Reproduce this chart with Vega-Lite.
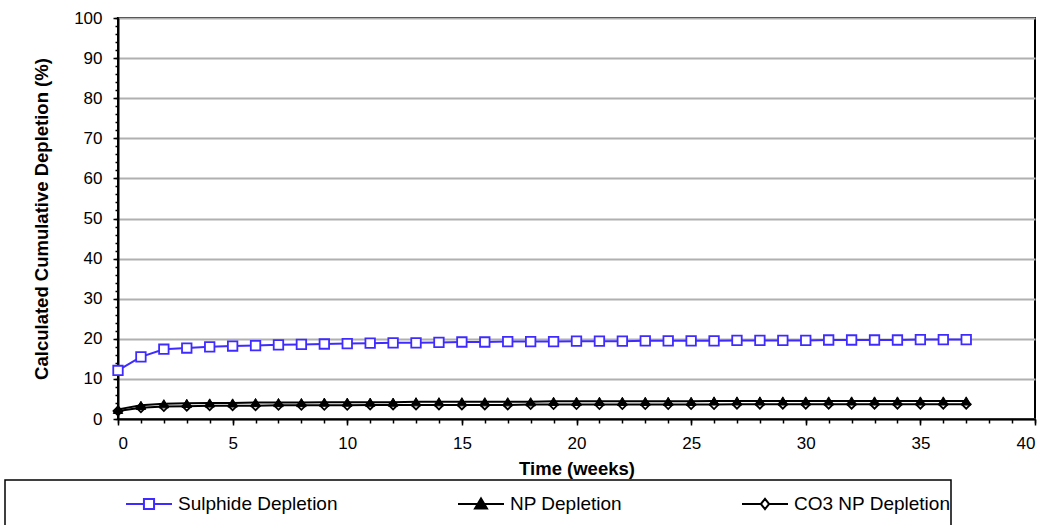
{
  "$schema": "https://vega.github.io/schema/vega-lite/v6.json",
  "width": 917,
  "height": 401,
  "autosize": {"type": "none"},
  "padding": {"left": 118, "top": 18, "right": 27, "bottom": 106},
  "background": "white",
  "config": {
    "font": "Liberation Sans",
    "view": {"stroke": "black", "strokeWidth": 2},
    "axis": {"labelFont": "Liberation Sans", "titleFont": "Liberation Sans", "labelColor": "black", "titleColor": "black", "domainColor": "black", "tickColor": "black"}
  },
  "datasets": {
    "depletion": [
      {"week": 0, "series": "CO3 NP Depletion", "value": 2.0},
      {"week": 1, "series": "CO3 NP Depletion", "value": 2.8},
      {"week": 2, "series": "CO3 NP Depletion", "value": 3.1},
      {"week": 3, "series": "CO3 NP Depletion", "value": 3.2},
      {"week": 4, "series": "CO3 NP Depletion", "value": 3.3},
      {"week": 5, "series": "CO3 NP Depletion", "value": 3.3},
      {"week": 6, "series": "CO3 NP Depletion", "value": 3.3},
      {"week": 7, "series": "CO3 NP Depletion", "value": 3.4},
      {"week": 8, "series": "CO3 NP Depletion", "value": 3.4},
      {"week": 9, "series": "CO3 NP Depletion", "value": 3.4},
      {"week": 10, "series": "CO3 NP Depletion", "value": 3.4},
      {"week": 11, "series": "CO3 NP Depletion", "value": 3.5},
      {"week": 12, "series": "CO3 NP Depletion", "value": 3.5},
      {"week": 13, "series": "CO3 NP Depletion", "value": 3.5},
      {"week": 14, "series": "CO3 NP Depletion", "value": 3.5},
      {"week": 15, "series": "CO3 NP Depletion", "value": 3.5},
      {"week": 16, "series": "CO3 NP Depletion", "value": 3.5},
      {"week": 17, "series": "CO3 NP Depletion", "value": 3.5},
      {"week": 18, "series": "CO3 NP Depletion", "value": 3.6},
      {"week": 19, "series": "CO3 NP Depletion", "value": 3.6},
      {"week": 20, "series": "CO3 NP Depletion", "value": 3.6},
      {"week": 21, "series": "CO3 NP Depletion", "value": 3.6},
      {"week": 22, "series": "CO3 NP Depletion", "value": 3.6},
      {"week": 23, "series": "CO3 NP Depletion", "value": 3.6},
      {"week": 24, "series": "CO3 NP Depletion", "value": 3.6},
      {"week": 25, "series": "CO3 NP Depletion", "value": 3.6},
      {"week": 26, "series": "CO3 NP Depletion", "value": 3.6},
      {"week": 27, "series": "CO3 NP Depletion", "value": 3.7},
      {"week": 28, "series": "CO3 NP Depletion", "value": 3.7},
      {"week": 29, "series": "CO3 NP Depletion", "value": 3.7},
      {"week": 30, "series": "CO3 NP Depletion", "value": 3.7},
      {"week": 31, "series": "CO3 NP Depletion", "value": 3.7},
      {"week": 32, "series": "CO3 NP Depletion", "value": 3.7},
      {"week": 33, "series": "CO3 NP Depletion", "value": 3.7},
      {"week": 34, "series": "CO3 NP Depletion", "value": 3.7},
      {"week": 35, "series": "CO3 NP Depletion", "value": 3.7},
      {"week": 36, "series": "CO3 NP Depletion", "value": 3.7},
      {"week": 37, "series": "CO3 NP Depletion", "value": 3.7},
      {"week": 0, "series": "NP Depletion", "value": 2.4},
      {"week": 1, "series": "NP Depletion", "value": 3.4},
      {"week": 2, "series": "NP Depletion", "value": 3.8},
      {"week": 3, "series": "NP Depletion", "value": 3.9},
      {"week": 4, "series": "NP Depletion", "value": 4.0},
      {"week": 5, "series": "NP Depletion", "value": 4.0},
      {"week": 6, "series": "NP Depletion", "value": 4.1},
      {"week": 7, "series": "NP Depletion", "value": 4.1},
      {"week": 8, "series": "NP Depletion", "value": 4.1},
      {"week": 9, "series": "NP Depletion", "value": 4.2},
      {"week": 10, "series": "NP Depletion", "value": 4.2},
      {"week": 11, "series": "NP Depletion", "value": 4.2},
      {"week": 12, "series": "NP Depletion", "value": 4.2},
      {"week": 13, "series": "NP Depletion", "value": 4.3},
      {"week": 14, "series": "NP Depletion", "value": 4.3},
      {"week": 15, "series": "NP Depletion", "value": 4.3},
      {"week": 16, "series": "NP Depletion", "value": 4.3},
      {"week": 17, "series": "NP Depletion", "value": 4.3},
      {"week": 18, "series": "NP Depletion", "value": 4.3},
      {"week": 19, "series": "NP Depletion", "value": 4.4},
      {"week": 20, "series": "NP Depletion", "value": 4.4},
      {"week": 21, "series": "NP Depletion", "value": 4.4},
      {"week": 22, "series": "NP Depletion", "value": 4.4},
      {"week": 23, "series": "NP Depletion", "value": 4.4},
      {"week": 24, "series": "NP Depletion", "value": 4.4},
      {"week": 25, "series": "NP Depletion", "value": 4.4},
      {"week": 26, "series": "NP Depletion", "value": 4.5},
      {"week": 27, "series": "NP Depletion", "value": 4.5},
      {"week": 28, "series": "NP Depletion", "value": 4.5},
      {"week": 29, "series": "NP Depletion", "value": 4.5},
      {"week": 30, "series": "NP Depletion", "value": 4.5},
      {"week": 31, "series": "NP Depletion", "value": 4.5},
      {"week": 32, "series": "NP Depletion", "value": 4.5},
      {"week": 33, "series": "NP Depletion", "value": 4.5},
      {"week": 34, "series": "NP Depletion", "value": 4.5},
      {"week": 35, "series": "NP Depletion", "value": 4.5},
      {"week": 36, "series": "NP Depletion", "value": 4.5},
      {"week": 37, "series": "NP Depletion", "value": 4.5},
      {"week": 0, "series": "Sulphide Depletion", "value": 12.1},
      {"week": 1, "series": "Sulphide Depletion", "value": 15.5},
      {"week": 2, "series": "Sulphide Depletion", "value": 17.4},
      {"week": 3, "series": "Sulphide Depletion", "value": 17.7},
      {"week": 4, "series": "Sulphide Depletion", "value": 18.0},
      {"week": 5, "series": "Sulphide Depletion", "value": 18.2},
      {"week": 6, "series": "Sulphide Depletion", "value": 18.3},
      {"week": 7, "series": "Sulphide Depletion", "value": 18.5},
      {"week": 8, "series": "Sulphide Depletion", "value": 18.6},
      {"week": 9, "series": "Sulphide Depletion", "value": 18.7},
      {"week": 10, "series": "Sulphide Depletion", "value": 18.8},
      {"week": 11, "series": "Sulphide Depletion", "value": 18.9},
      {"week": 12, "series": "Sulphide Depletion", "value": 19.0},
      {"week": 13, "series": "Sulphide Depletion", "value": 19.0},
      {"week": 14, "series": "Sulphide Depletion", "value": 19.1},
      {"week": 15, "series": "Sulphide Depletion", "value": 19.2},
      {"week": 16, "series": "Sulphide Depletion", "value": 19.2},
      {"week": 17, "series": "Sulphide Depletion", "value": 19.3},
      {"week": 18, "series": "Sulphide Depletion", "value": 19.3},
      {"week": 19, "series": "Sulphide Depletion", "value": 19.3},
      {"week": 20, "series": "Sulphide Depletion", "value": 19.4},
      {"week": 21, "series": "Sulphide Depletion", "value": 19.4},
      {"week": 22, "series": "Sulphide Depletion", "value": 19.4},
      {"week": 23, "series": "Sulphide Depletion", "value": 19.5},
      {"week": 24, "series": "Sulphide Depletion", "value": 19.5},
      {"week": 25, "series": "Sulphide Depletion", "value": 19.5},
      {"week": 26, "series": "Sulphide Depletion", "value": 19.5},
      {"week": 27, "series": "Sulphide Depletion", "value": 19.6},
      {"week": 28, "series": "Sulphide Depletion", "value": 19.6},
      {"week": 29, "series": "Sulphide Depletion", "value": 19.6},
      {"week": 30, "series": "Sulphide Depletion", "value": 19.6},
      {"week": 31, "series": "Sulphide Depletion", "value": 19.7},
      {"week": 32, "series": "Sulphide Depletion", "value": 19.7},
      {"week": 33, "series": "Sulphide Depletion", "value": 19.7},
      {"week": 34, "series": "Sulphide Depletion", "value": 19.7},
      {"week": 35, "series": "Sulphide Depletion", "value": 19.8},
      {"week": 36, "series": "Sulphide Depletion", "value": 19.8},
      {"week": 37, "series": "Sulphide Depletion", "value": 19.8}
    ]
  },
  "data": {"name": "depletion"},
  "resolve": {"axis": {"x": "independent", "y": "independent"}},
  "layer": [
    {
      "mark": {"type": "point", "opacity": 0},
      "encoding": {
        "x": {"field": "week", "type": "quantitative", "scale": {"domain": [0, 40], "nice": false, "zero": false},
          "axis": {"orient": "bottom", "values": [0,1,2,3,4,5,6,7,8,9,10,11,12,13,14,15,16,17,18,19,20,21,22,23,24,25,26,27,28,29,30,31,32,33,34,35,36,37,38,39,40], "labels": false, "domain": false, "grid": false, "ticks": true, "tickSize": 4, "tickWidth": 1.5, "title": null}},
        "y": {"field": "value", "type": "quantitative", "scale": {"domain": [0, 100], "nice": false},
          "axis": {"orient": "left", "values": [0,2,4,6,8,10,12,14,16,18,20,22,24,26,28,30,32,34,36,38,40,42,44,46,48,50,52,54,56,58,60,62,64,66,68,70,72,74,76,78,80,82,84,86,88,90,92,94,96,98,100], "labels": false, "domain": false, "grid": false, "ticks": true, "tickSize": 3, "tickWidth": 1.5, "title": null}}
      }
    },
    {
      "mark": {"type": "line", "strokeWidth": 2},
      "encoding": {
        "x": {"field": "week", "type": "quantitative",
          "axis": {"orient": "bottom", "values": [0,5,10,15,20,25,30,35,40], "title": "Time (weeks)", "titleFontSize": 18.5, "titleFontWeight": "bold", "titlePadding": 8, "labelFontSize": 17, "labelPadding": 10, "tickSize": 6, "tickWidth": 1.5, "domainWidth": 2, "grid": false}},
        "y": {"field": "value", "type": "quantitative",
          "axis": {"orient": "left", "values": [0,10,20,30,40,50,60,70,80,90,100], "title": "Calculated Cumulative Depletion (%)", "titleFontSize": 18.5, "titleFontWeight": "bold", "titlePadding": 22, "labelFontSize": 17, "labelPadding": 11, "tickSize": 5, "tickWidth": 1.5, "domainWidth": 2, "grid": true, "gridColor": "#b0b0b0", "gridWidth": 2}},
        "color": {"field": "series", "type": "nominal",
          "scale": {"domain": ["Sulphide Depletion", "NP Depletion", "CO3 NP Depletion"], "range": ["#3f2bff", "#000000", "#000000"]},
          "legend": {
            "orient": "none", "legendX": -113, "legendY": 462, "direction": "horizontal", "columns": 3,
            "title": "\u2002", "titleOrient": "left", "titleAnchor": "start", "titleBaseline": "top", "titlePadding": 120, "titleFontSize": 80,
            "padding": 0, "strokeColor": "black", "fillColor": "white",
            "symbolSize": 2116, "symbolStrokeWidth": 2, "labelFontSize": 19, "labelOffset": 5, "labelLimit": 600, "labelColor": "black", "labelFont": "Liberation Sans",
            "columnPadding": 116, "gridAlign": "none",
            "encode": {
              "legend": {"update": {"strokeWidth": {"value": 1.5}}},
              "entries": {"update": {"width": {"signal": "datum.value === 'CO3 NP Depletion' ? 340 : 0"}}},
              "symbols": {"update": {
                "shape": {"signal": "datum.value === 'Sulphide Depletion' ? 'M-1,0H-0.22M0.22,0H1M-0.22,-0.22H0.22V0.22H-0.22Z' : datum.value === 'NP Depletion' ? 'M-1,0H1M-0.26,0.2L0,-0.24L0.26,0.2Z' : 'M-1,0H-0.18M0.18,0H1M-0.18,0L0,-0.22L0.18,0L0,0.22Z'"},
                "fill": {"signal": "datum.value === 'NP Depletion' ? 'black' : 'white'"}
              }}
            }
          }}
      }
    },
    {
      "transform": [{"filter": "datum.series === 'CO3 NP Depletion'"}],
      "mark": {"type": "point", "shape": "diamond", "filled": true, "fill": "white", "stroke": "black", "strokeWidth": 1.8, "size": 80, "opacity": 1},
      "encoding": {
        "x": {"field": "week", "type": "quantitative", "axis": null},
        "y": {"field": "value", "type": "quantitative", "axis": null}
      }
    },
    {
      "transform": [{"filter": "datum.series === 'NP Depletion'"}],
      "mark": {"type": "point", "shape": "triangle-up", "filled": true, "fill": "black", "stroke": "black", "strokeWidth": 1, "size": 90, "opacity": 1},
      "encoding": {
        "x": {"field": "week", "type": "quantitative", "axis": null},
        "y": {"field": "value", "type": "quantitative", "axis": null}
      }
    },
    {
      "transform": [{"filter": "datum.series === 'Sulphide Depletion'"}],
      "mark": {"type": "point", "shape": "square", "filled": true, "fill": "white", "stroke": "#3f2bff", "strokeWidth": 1.8, "size": 90, "opacity": 1},
      "encoding": {
        "x": {"field": "week", "type": "quantitative", "axis": null},
        "y": {"field": "value", "type": "quantitative", "axis": null}
      }
    }
  ]
}
